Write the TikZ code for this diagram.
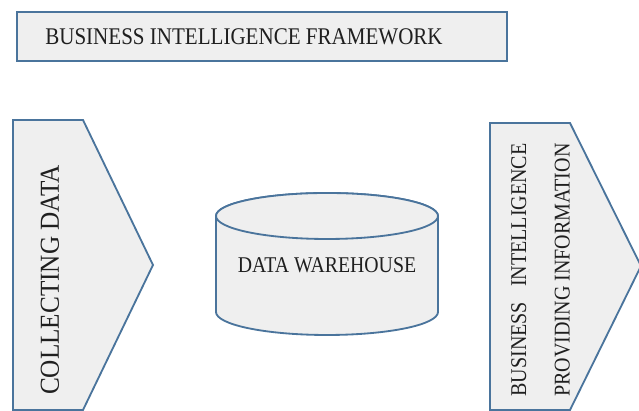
\documentclass[tikz,border=0pt]{standalone}
\usepackage{fontspec}
\setmainfont{Liberation Serif}
\usetikzlibrary{positioning}
\definecolor{edgeblue}{RGB}{74,116,156}
\definecolor{boxgray}{RGB}{239,239,239}

\begin{document}
\begin{tikzpicture}[x=0.025cm, y=0.025cm,
            shapebox/.style={draw=edgeblue, line width=1.3pt, fill=boxgray},
            txt/.style={text=black!88, inner sep=0pt, align=center}]
            \useasboundingbox (0,0) rectangle (639,411);

            % title bar
            \draw[shapebox] (17,350) rectangle (507,399);
            \node[txt, xscale=0.88, font=\fontsize{17}{20}\selectfont] (title) at (244,374.5) {BUSINESS INTELLIGENCE FRAMEWORK};

            % left arrow
            \draw[shapebox] (13,1) -- (13,291) -- (83,291) -- (153,146) -- (83,1) -- cycle;
            \node[txt, rotate=90, xscale=0.92, font=\fontsize{19.5}{22}\selectfont] (collect) at (50,131) {COLLECTING DATA};

            % data warehouse cylinder
            \draw[shapebox] (216,195) -- (216,99) arc (180:360:111 and 23) -- (438,195) arc (0:180:111 and 23) -- cycle;
            \draw[shapebox] (327,195) ellipse (111 and 23);
            \node[txt, xscale=0.88, font=\fontsize{16}{19}\selectfont] (warehouse) at (327,146) {DATA WAREHOUSE};

            % right arrow
            \draw[shapebox] (490,1) -- (490,288) -- (570,288) -- (641,145) -- (570,1) -- cycle;
            \node[txt, rotate=90, xscale=0.89, font=\fontsize{16}{19}\selectfont] (provide) at (542.5,141)
                {\begin{tabular}{@{}l@{}}BUSINESS\hfill INTELLIGENCE\\[12pt] PROVIDING INFORMATION\end{tabular}};
        \end{tikzpicture}
\end{document}
